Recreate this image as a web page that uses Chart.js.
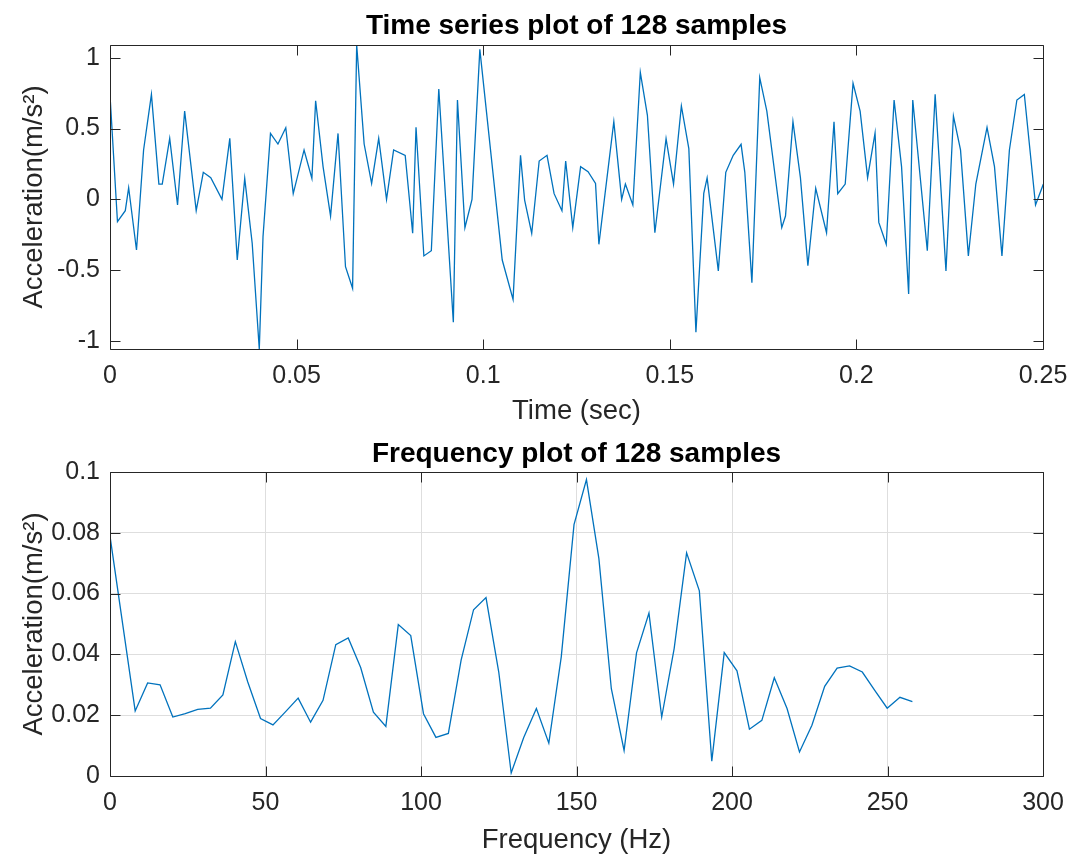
<!DOCTYPE html>
<html>
<head>
<meta charset="utf-8">
<script src="https://cdn.jsdelivr.net/npm/chart.js@4/dist/chart.umd.min.js"></script>
<style>
  body { margin: 0; background: #fff; }
  canvas { position: absolute; left: 0; }
  #timeChart { top: 0; }
  #freqChart { top: 428px; }
</style>
</head>
<body>
<canvas id="timeChart" width="1069" height="428"></canvas>
<canvas id="freqChart" width="1069" height="429"></canvas>
<script>
// time series
const timeSec = [
  0.0000, 0.0020, 0.0041, 0.0050, 0.0071, 0.0090, 0.0111, 0.0131, 0.0140, 0.0160,
  0.0181, 0.0200, 0.0231, 0.0250, 0.0270, 0.0300, 0.0321, 0.0341, 0.0361, 0.0381,
  0.0400, 0.0410, 0.0430, 0.0450, 0.0471, 0.0491, 0.0520, 0.0541, 0.0551, 0.0571,
  0.0591, 0.0611, 0.0631, 0.0650, 0.0661, 0.0681, 0.0701, 0.0720, 0.0741, 0.0760,
  0.0791, 0.0811, 0.0820, 0.0841, 0.0861, 0.0881, 0.0920, 0.0931, 0.0951, 0.0970,
  0.0991, 0.1051, 0.1080, 0.1100, 0.1111, 0.1130, 0.1150, 0.1171, 0.1190, 0.1211,
  0.1221, 0.1240, 0.1261, 0.1281, 0.1301, 0.1310, 0.1350, 0.1371, 0.1381, 0.1401,
  0.1421, 0.1440, 0.1460, 0.1490, 0.1510, 0.1531, 0.1551, 0.1570, 0.1591, 0.1600,
  0.1630, 0.1650, 0.1670, 0.1691, 0.1701, 0.1720, 0.1741, 0.1760, 0.1800, 0.1810,
  0.1830, 0.1850, 0.1870, 0.1891, 0.1920, 0.1940, 0.1950, 0.1970, 0.1991, 0.2010,
  0.2030, 0.2050, 0.2060, 0.2080, 0.2101, 0.2121, 0.2140, 0.2151, 0.2190, 0.2211,
  0.2240, 0.2260, 0.2279, 0.2300, 0.2320, 0.2350, 0.2370, 0.2390, 0.2410, 0.2430,
  0.2450, 0.2480, 0.2501
];
const accel = [
  0.737, -0.158, -0.080, 0.082, -0.358, 0.349, 0.742, 0.108, 0.108, 0.431,
  -0.040, 0.624, -0.080, 0.191, 0.153, 0.000, 0.431, -0.429, 0.148, -0.310,
  -1.058, -0.264, 0.466, 0.391, 0.506, 0.040, 0.349, 0.148, 0.697, 0.230,
  -0.118, 0.466, -0.476, -0.629, 1.091, 0.391, 0.113, 0.431, 0.000, 0.349,
  0.311, -0.240, 0.509, -0.400, -0.363, 0.780, -0.869, 0.702, -0.200, 0.000,
  1.060, -0.429, -0.707, 0.311, -0.005, -0.240, 0.271, 0.311, 0.040, -0.080,
  0.271, -0.200, 0.231, 0.196, 0.113, -0.318, 0.549, 0.000, 0.108, -0.040,
  0.898, 0.594, -0.236, 0.429, 0.108, 0.660, 0.358, -0.940, 0.042, 0.151,
  -0.506, 0.191, 0.311, 0.389, 0.191, -0.589, 0.860, 0.624, -0.200, -0.118,
  0.549, 0.153, -0.469, 0.078, -0.236, 0.549, 0.040, 0.108, 0.820, 0.624,
  0.153, 0.469, -0.163, -0.318, 0.702, 0.231, -0.669, 0.702, -0.363, 0.742,
  -0.506, 0.589, 0.349, -0.400, 0.108, 0.509, 0.231, -0.400, 0.349, 0.702,
  0.742, -0.040, 0.108
];

// spectrum
const freqHz = [
  0, 8.1, 12.1, 16.1, 20.2, 24.2, 28.2, 32.3, 36.3, 40.3,
  44.3, 48.4, 52.4, 56.4, 60.5, 64.5, 68.5, 72.6, 76.6, 80.6,
  84.7, 88.7, 92.7, 96.7, 100.8, 104.8, 108.8, 112.9, 116.9, 120.9,
  125.0, 129.0, 133.0, 137.1, 141.1, 145.1, 149.2, 153.2, 157.2, 161.2,
  165.3, 169.3, 173.3, 177.4, 181.4, 185.4, 189.5, 193.5, 197.5, 201.6,
  205.6, 209.6, 213.6, 217.7, 221.7, 225.7, 229.8, 233.8, 237.8, 241.9,
  245.9, 249.9, 254.0, 258.0
];
const amp = [
  0.0789, 0.0214, 0.0306, 0.0300, 0.0194, 0.0205, 0.0219, 0.0223, 0.0267, 0.0442,
  0.0309, 0.0189, 0.0168, 0.0211, 0.0256, 0.0177, 0.0249, 0.0432, 0.0454, 0.0357,
  0.0210, 0.0163, 0.0498, 0.0462, 0.0205, 0.0127, 0.0140, 0.0381, 0.0547, 0.0587,
  0.0342, 0.0010, 0.0126, 0.0222, 0.0108, 0.0392, 0.0827, 0.0975, 0.0715, 0.0287,
  0.0084, 0.0405, 0.0536, 0.0194, 0.0419, 0.0734, 0.0609, 0.0049, 0.0406, 0.0346,
  0.0154, 0.0183, 0.0323, 0.0222, 0.0079, 0.0167, 0.0295, 0.0355, 0.0362, 0.0342,
  0.0282, 0.0223, 0.0259, 0.0245
];

// tick labels
const timeTicks = [0, 0.05, 0.1, 0.15, 0.2, 0.25];
const accelTicks = [-1, -0.5, 0, 0.5, 1];
const freqTicks = [0, 50, 100, 150, 200, 250, 300];
const ampTicks = [0, 0.02, 0.04, 0.06, 0.08, 0.1];

const axisColor = '#262626';
const lineColor = '#0072BD';
Chart.defaults.font.family = "'Liberation Sans', Arial, Helvetica, sans-serif";

// MATLAB style box with ticks pointing inwards on all four sides
const boxTicks = {
  id: 'boxTicks',
  afterDraw(chart) {
    const { ctx, chartArea: a, scales: { x, y } } = chart;
    const L = Math.round(a.left) + 0.5, R = Math.round(a.right) + 0.5;
    const T = Math.round(a.top) + 0.5, B = Math.round(a.bottom) + 0.5;
    ctx.save();
    ctx.strokeStyle = axisColor;
    ctx.lineWidth = 1;
    ctx.beginPath();
    ctx.rect(L, T, R - L, B - T);
    x.ticks.forEach(t => {
      const px = Math.round(x.getPixelForValue(t.value)) + 0.5;
      ctx.moveTo(px, B); ctx.lineTo(px, B - 10);
      ctx.moveTo(px, T); ctx.lineTo(px, T + 10);
    });
    y.ticks.forEach(t => {
      const py = Math.round(y.getPixelForValue(t.value)) + 0.5;
      ctx.moveTo(L, py); ctx.lineTo(L + 10, py);
      ctx.moveTo(R, py); ctx.lineTo(R - 10, py);
    });
    ctx.stroke();
    ctx.restore();
  }
};

const fmt = v => String(+Number(v).toFixed(4));

function makeChart(id, cfg) {
  return new Chart(document.getElementById(id), {
    type: 'line',
    data: {
      datasets: [{
        data: cfg.xs.map((x, i) => ({ x: x, y: cfg.ys[i] })),
        borderColor: lineColor,
        borderWidth: 1.3,
        pointRadius: 0,
        tension: 0,
        fill: false
      }]
    },
    options: {
      responsive: false,
      devicePixelRatio: 1,
      animation: false,
      layout: { padding: { left: 0, right: 26, top: 0, bottom: 0 } },
      plugins: {
        legend: { display: false },
        tooltip: { enabled: false },
        title: {
          display: true,
          fullSize: false,  // centre over the plot area, like MATLAB
          text: cfg.title,
          color: '#000',
          font: { size: 28, weight: 'bold' },
          padding: { top: cfg.titleTop, bottom: cfg.titleGap }
        }
      },
      scales: {
        x: {
          type: 'linear',
          min: cfg.xMin,
          max: cfg.xMax,
          afterBuildTicks: s => { s.ticks = cfg.xTicks.map(v => ({ value: v })); },
          afterFit: s => { s.height = cfg.xHeight; s.paddingLeft = 0; s.paddingRight = 0; },
          grid: { display: cfg.grid, color: '#dedede', drawTicks: false },
          border: { display: false },
          ticks: { color: axisColor, font: { size: 25 }, padding: 12, maxRotation: 0, callback: fmt },
          title: { display: true, text: cfg.xTitle, color: axisColor, font: { size: 27.5 }, padding: { top: 0, bottom: 0 } }
        },
        y: {
          type: 'linear',
          min: cfg.yMin,
          max: cfg.yMax,
          afterBuildTicks: s => { s.ticks = cfg.yTicks.map(v => ({ value: v })); },
          afterFit: s => { s.width = 110; },
          grid: { display: cfg.grid, color: '#dedede', drawTicks: false },
          border: { display: false },
          ticks: { color: axisColor, font: { size: 25 }, padding: 10, callback: fmt },
          title: { display: true, text: 'Acceleration(m/s²)', color: axisColor, font: { size: 27.5 }, padding: { top: 18, bottom: 0 } }
        }
      }
    },
    plugins: [boxTicks]
  });
}

makeChart('timeChart', {
  xs: timeSec, ys: accel,
  title: 'Time series plot of 128 samples',
  xTitle: 'Time (sec)',
  xMin: 0, xMax: 0.25, xTicks: timeTicks,
  yMin: -1.058, yMax: 1.091, yTicks: accelTicks,
  grid: false, titleTop: 9.5, titleGap: 1.9, xHeight: 79
});

makeChart('freqChart', {
  xs: freqHz, ys: amp,
  title: 'Frequency plot of 128 samples',
  xTitle: 'Frequency (Hz)',
  xMin: 0, xMax: 300, xTicks: freqTicks,
  yMin: 0, yMax: 0.1, yTicks: ampTicks,
  grid: true, titleTop: 9, titleGap: 1.4, xHeight: 81
});
</script>
</body>
</html>
